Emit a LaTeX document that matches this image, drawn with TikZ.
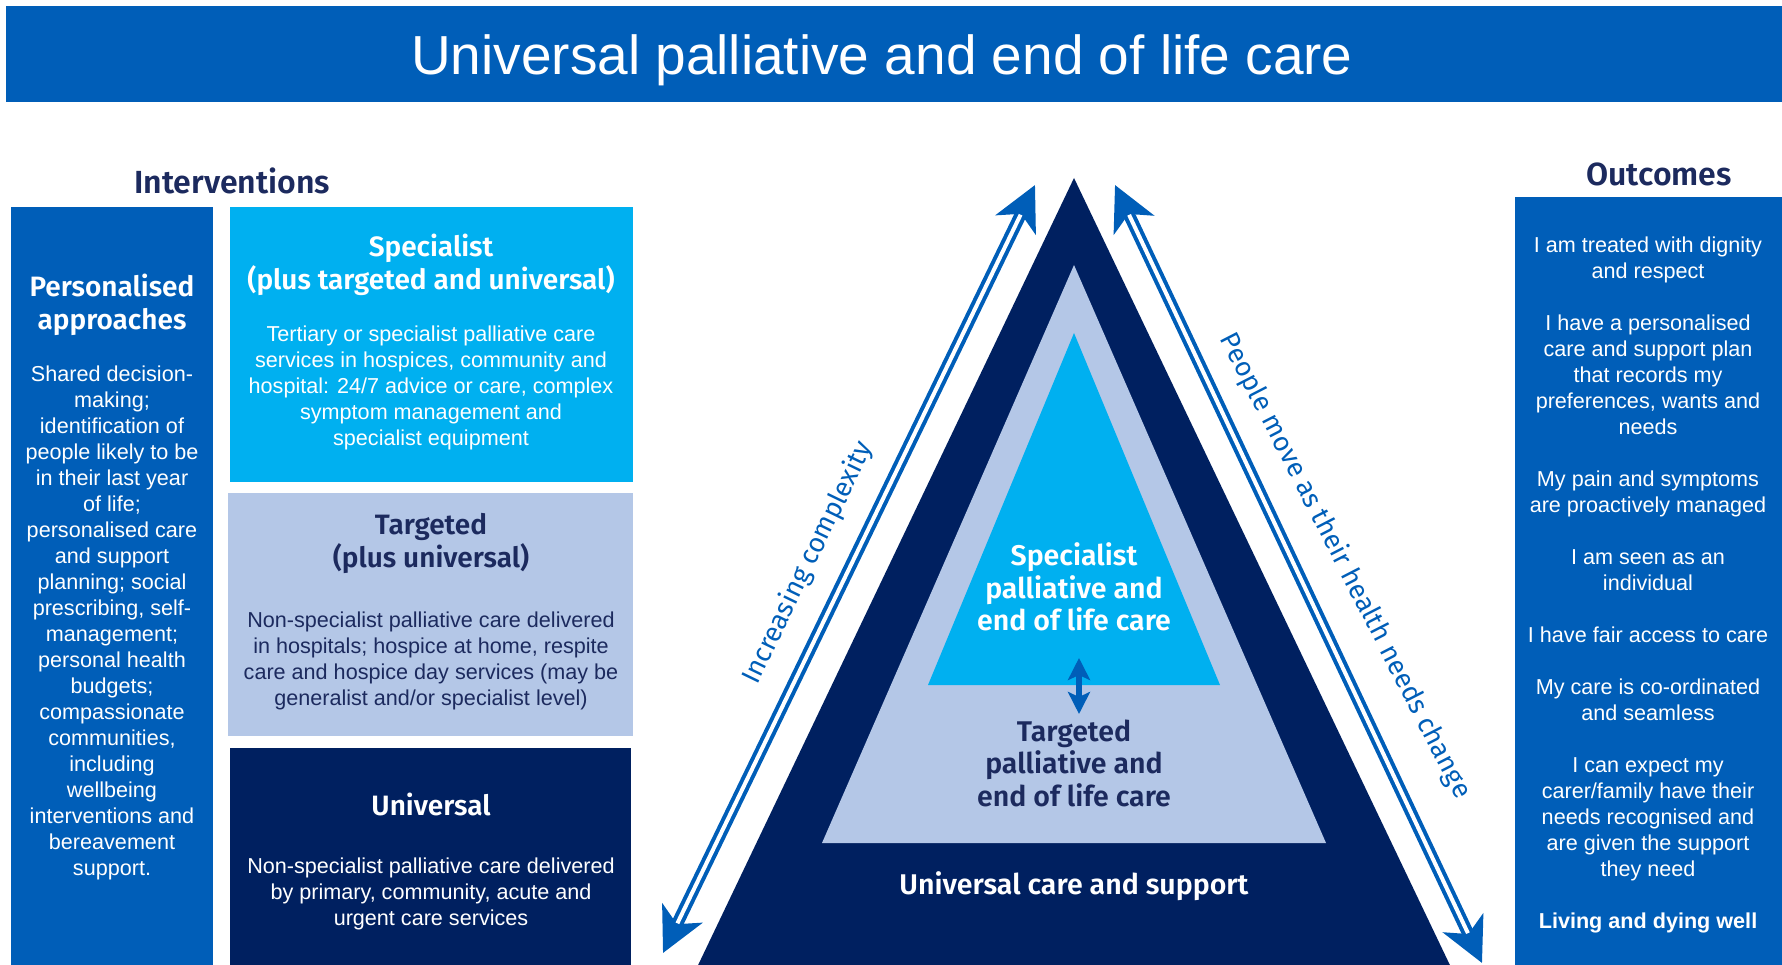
\documentclass[tikz,border=0pt]{standalone}
\usepackage{fontspec}
\setmainfont{Liberation Sans}
\newfontfamily\headfont{Fira Sans}[BoldFont={* SemiBold}]
\usepackage{tikz}
\usetikzlibrary{arrows.meta,positioning,calc}
\definecolor{nhsblue}{HTML}{005EB8}
\definecolor{navy}{HTML}{002060}
\definecolor{cyanbox}{HTML}{00B0F0}
\definecolor{paleblue}{HTML}{B4C7E7}
\definecolor{ink}{HTML}{1C2A5E}
\tikzset{
  panel/.style={
    rectangle,
    draw=none,
    anchor=north west,
    inner sep=0pt
  }
}
\tikzset{
  title text/.style={
    inner sep=0pt,
    text=white,
    font=\fontsize{55}{60}\selectfont
  }
}
\tikzset{
  heading/.style={
    inner sep=0pt,
    text=ink,
    font=\headfont\bfseries\fontsize{32}{38}\selectfont
  }
}
\tikzset{
  panel title/.style={
    align=center,
    inner sep=0pt,
    font=\headfont\bfseries\fontsize{28}{33}\selectfont
  }
}
\tikzset{
  panel text/.style={
    align=center,
    inner sep=0pt,
    font=\fontsize{21.6}{26}\selectfont
  }
}
\tikzset{
  layer label/.style={
    align=center,
    inner sep=0pt,
    font=\headfont\bfseries\fontsize{28.5}{32.5}\selectfont
  }
}
\tikzset{
  side label/.style={
    inner sep=0pt,
    text=nhsblue,
    font=\headfont\fontsize{27}{30}\selectfont
  }
}
\tikzset{
  move arrow/.style={
    {Stealth[length=44pt,width=44pt,inset=12pt]}-{Stealth[length=44pt,width=44pt,inset=12pt]},
    draw=nhsblue,
    line width=12pt
  }
}
\tikzset{
  move gap/.style={
    draw=white,
    line width=4pt,
    shorten <=33pt,
    shorten >=33pt
  }
}
\tikzset{
  level arrow/.style={
    {Stealth[length=22pt,width=22pt,inset=5pt]}-{Stealth[length=22pt,width=22pt,inset=5pt]},
    draw=nhsblue,
    line width=6pt
  }
}

\begin{document}
\begin{tikzpicture}[x=1pt,y=-1pt]

    \useasboundingbox (0,0) rectangle (1782,965);
    \clip (0,0) rectangle (1782,965);

    % ------------------------------------------------------------
    % Panels
    % ------------------------------------------------------------

    \node[panel, fill=nhsblue, minimum width=1790pt, minimum height=96pt] (bar) at (6,6) {};
    \node[title text] (title) at (882,60) {Universal palliative and end of life care};

    \node[heading] (interv) at (232,181) {Interventions};
    \node[heading] (outhead) at (1659,174) {Outcomes};

    \node[panel, fill=nhsblue, minimum width=202pt, minimum height=780pt] (pers) at (11,207) {};
    \node[panel, fill=cyanbox, minimum width=403pt, minimum height=275pt] (spec) at (230,207) {};
    \node[panel, fill=paleblue, minimum width=405pt, minimum height=243pt] (targ) at (228,493) {};
    \node[panel, fill=navy, minimum width=401pt, minimum height=240pt] (univ) at (230,748) {};
    \node[panel, fill=nhsblue, minimum width=280pt, minimum height=790pt] (outc) at (1515,197) {};

    % ------------------------------------------------------------
    % Panel texts
    % ------------------------------------------------------------

    \node[panel title, text=white] (pers title) at (112,305)
      {Personalised\\approaches};
    \node[panel text, text=white] (pers text) at (112,623)
      {Shared decision-\\making;\\identification of\\people likely to be\\in their last year\\of life;\\personalised care\\and support\\planning; social\\prescribing, self-\\management;\\personal health\\budgets;\\compassionate\\communities,\\including\\wellbeing\\interventions and\\bereavement\\support.};

    \node[panel title, text=white] (spec title) at (431,265)
      {Specialist\\(plus targeted and universal)};
    \node[panel text, text=white] (spec text) at (431,388)
      {Tertiary or specialist palliative care\\services in hospices, community and\\hospital: 24/7 advice or care, complex\\symptom management and\\specialist equipment};

    \node[panel title, text=ink] (targ title) at (431,543)
      {Targeted\\(plus universal)};
    \node[panel text, text=ink] (targ text) at (431,661)
      {Non-specialist palliative care delivered\\in hospitals; hospice at home, respite\\care and hospice day services (may be\\generalist and/or specialist level)};

    \node[panel title, text=white] (univ title) at (431,804) {Universal};
    \node[panel text, text=white] (univ text) at (431,894)
      {Non-specialist palliative care delivered\\by primary, community, acute and\\urgent care services};

    \node[panel text, text=white] (outc text) at (1648,585)
      {I am treated with dignity\\and respect\\[26pt]
       I have a personalised\\care and support plan\\that records my\\preferences, wants and\\needs\\[26pt]
       My pain and symptoms\\are proactively managed\\[26pt]
       I am seen as an\\individual\\[26pt]
       I have fair access to care\\[26pt]
       My care is co-ordinated\\and seamless\\[26pt]
       I can expect my\\carer/family have their\\needs recognised and\\are given the support\\they need\\[26pt]
       \textbf{Living and dying well}};

    % ------------------------------------------------------------
    % Triangle
    % ------------------------------------------------------------

    \fill[navy] (1074,178) -- (690,982) -- (1458,982) -- cycle;
    \fill[paleblue] (1074,265) -- (822,843) -- (1326,843) -- cycle;
    \fill[cyanbox] (1074,333) -- (928,685) -- (1220,685) -- cycle;

    \node[layer label, text=white] (spec layer) at (1074,587)
      {Specialist\\palliative and\\end of life care};
    \node[layer label, text=ink] (targ layer) at (1074,763)
      {Targeted\\palliative and\\end of life care};
    \node[layer label, text=white] (univ layer) at (1074,886)
      {Universal care and support};

    % ------------------------------------------------------------
    % Arrows
    % ------------------------------------------------------------

    \coordinate (cplx top) at (1035,185);
    \coordinate (cplx bot) at (663,953);
    \coordinate (move top) at (1115,185);
    \coordinate (move bot) at (1482,963);
    \coordinate (lvl up) at (1079,658);
    \coordinate (lvl down) at (1079,714);

    \draw[move arrow] (cplx bot) -- (cplx top);
    \draw[move gap] (cplx bot) -- (cplx top);
    \draw[move arrow] (move top) -- (move bot);
    \draw[move gap] (move top) -- (move bot);
    \draw[level arrow] (lvl up) -- (lvl down);

    \node[side label, rotate=64.2] (cplx label) at (808,563) {Increasing complexity};
    \node[side label, rotate=-62.8] (move label) at (1345,566) {People move as their health needs change};

\end{tikzpicture}
\end{document}
